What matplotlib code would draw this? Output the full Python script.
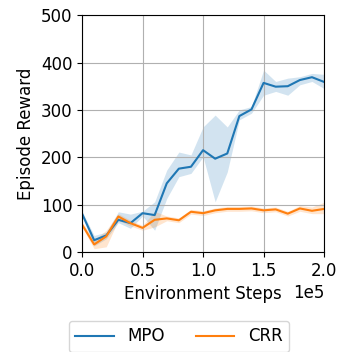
import numpy as np
import matplotlib
matplotlib.use('Agg')
import matplotlib.pyplot as plt

plt.rcParams['font.size'] = 12

steps = np.arange(0, 21) * 1e4

mpo_mean = [81, 25, 35, 68, 61, 82, 78, 145, 176, 180, 215, 197, 208, 287, 301, 357, 349, 350, 363, 369, 359]
mpo_low = [76, 13, 28, 62, 50, 76, 46, 113, 159, 166, 201, 106, 169, 279, 293, 331, 339, 331, 353, 360, 345]
mpo_high = [86, 35, 42, 85, 80, 86, 106, 173, 211, 205, 264, 289, 264, 300, 307, 384, 360, 367, 370, 377, 375]

crr_mean = [58, 16, 33, 75, 61, 51, 68, 71, 67, 85, 82, 88, 91, 91, 92, 88, 90, 81, 92, 87, 91]
crr_low = [53, 7, 11, 67, 55, 46, 53, 66, 62, 80, 77, 83, 86, 86, 87, 83, 85, 76, 86, 81, 81]
crr_high = [63, 25, 46, 81, 67, 56, 86, 76, 72, 90, 87, 93, 96, 96, 97, 93, 95, 86, 98, 95, 105]

fig = plt.figure(figsize=(3.39, 3.52), dpi=100)
ax = fig.add_axes([0.242, 0.284, 0.714, 0.673])

ax.plot(steps, mpo_mean, color='tab:blue', label='MPO')
ax.fill_between(steps, mpo_low, mpo_high, color='tab:blue', alpha=0.2, linewidth=0)
ax.plot(steps, crr_mean, color='tab:orange', label='CRR')
ax.fill_between(steps, crr_low, crr_high, color='tab:orange', alpha=0.2, linewidth=0)

ax.set_xlim(0, 2e5)
ax.set_ylim(0, 500)
ax.set_xticks([0, 0.5e5, 1e5, 1.5e5, 2e5])
ax.ticklabel_format(axis='x', style='sci', scilimits=(0, 0))
ax.grid(True)
ax.set_xlabel('Environment Steps')
ax.set_ylabel('Episode Reward')
# legend sits under the plot, a bit left of the axes centre
ax.legend(loc='upper center', bbox_to_anchor=(0.40, -0.255), ncol=2,
          handlelength=2.3, columnspacing=1.9)

fig.savefig('out.png', dpi=100)
